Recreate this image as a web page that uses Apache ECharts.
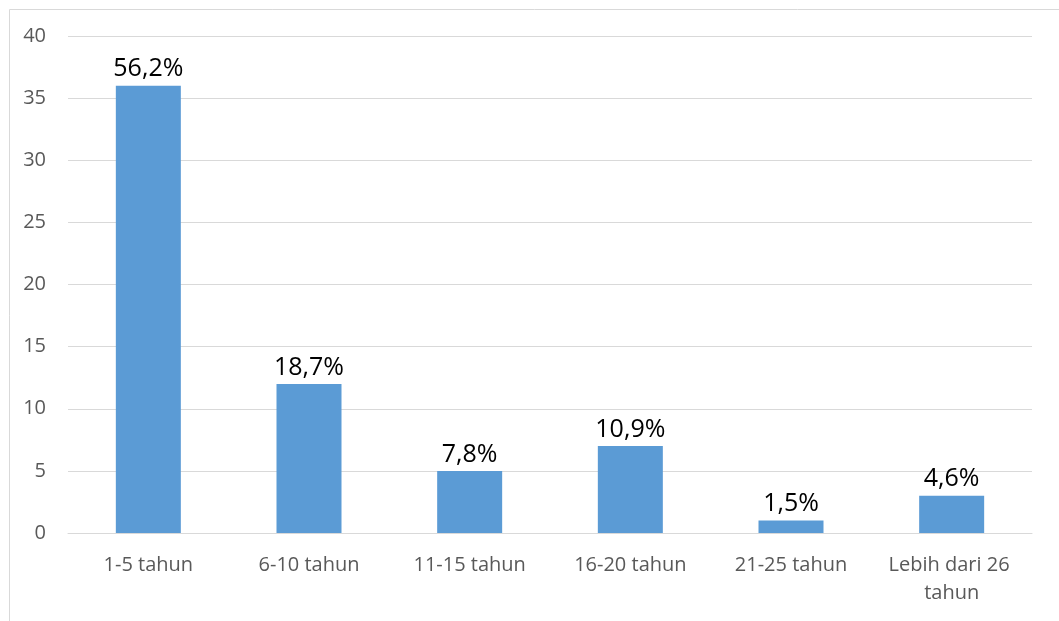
<!DOCTYPE html>
<html><head><meta charset="utf-8">
<style>html,body{margin:0;padding:0;background:#fff}#c{width:1059px;height:621px}</style>
<script src="https://cdn.jsdelivr.net/npm/echarts@6/dist/echarts.min.js"></script>
</head><body><div id="c"></div>
<script>
const categories = ['1-5 tahun','6-10 tahun','11-15 tahun','16-20 tahun','21-25 tahun','Lebih dari 26 tahun'];
const values = [36, 12, 5, 7, 1, 3];
const labels = ['56,2%','18,7%','7,8%','10,9%','1,5%','4,6%'];
const yTicks = [0,5,10,15,20,25,30,35,40];

const chart = echarts.init(document.getElementById('c'), null, {renderer:'canvas'});
chart.setOption({
  animation:false,
  graphic:[{type:'rect',shape:{x:9.5,y:9.5,width:1100,height:700},style:{fill:'none',stroke:'#d9d9d9',lineWidth:1},silent:true}],
  grid:{left:68,right:27,top:36,bottom:88},
  xAxis:{type:'category',data:categories,
    axisLine:{show:true,lineStyle:{color:'#d9d9d9',width:1}},
    axisTick:{show:false},
    axisLabel:{color:'#595959',fontFamily:'Open Sans',fontSize:20,margin:18,width:150,overflow:'break',lineHeight:28,interval:0}},
  yAxis:{type:'value',min:0,max:40,interval:5,
    axisLine:{show:false},axisTick:{show:false},
    splitLine:{lineStyle:{color:'#d9d9d9',width:1}},
    axisLabel:{color:'#595959',fontFamily:'Open Sans',fontSize:20,margin:22,
      formatter:v=>yTicks.includes(v)?String(v):''}},
  series:[{type:'bar',data:values,barWidth:65,itemStyle:{color:'#5b9bd5'},
    label:{show:true,position:'top',distance:4,color:'#000',fontFamily:'Open Sans',fontSize:25,
      formatter:p=>labels[p.dataIndex]}}]
});
</script></body></html>
